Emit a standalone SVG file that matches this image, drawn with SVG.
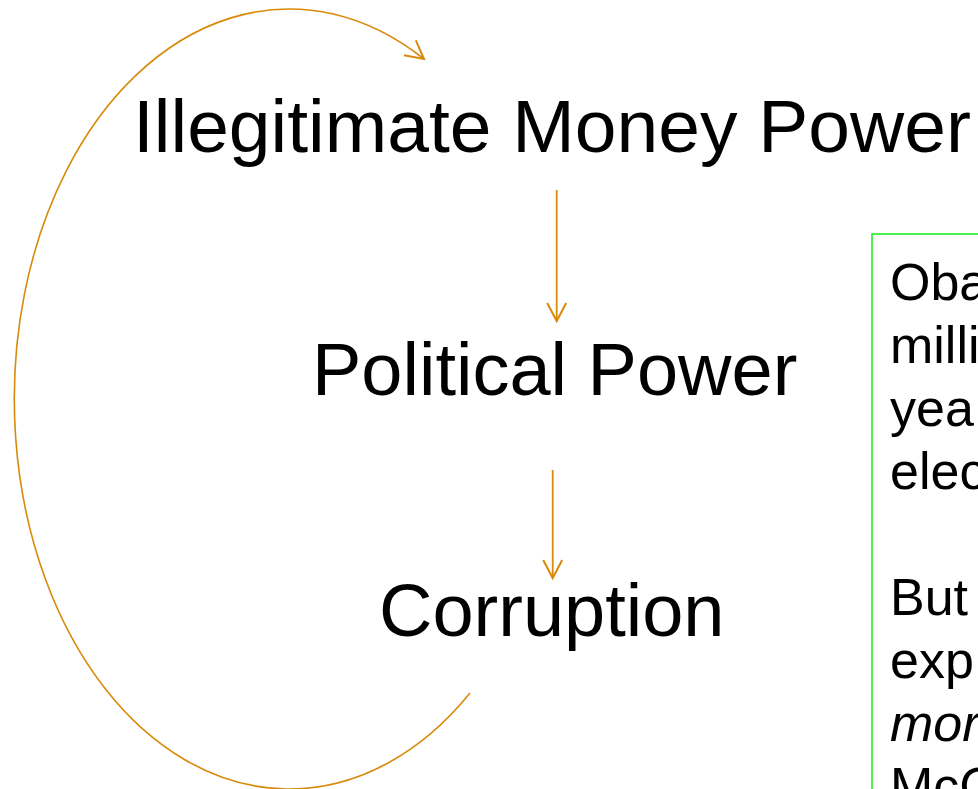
<svg xmlns="http://www.w3.org/2000/svg" width="978" height="789" viewBox="0 0 978 789">
<style>
.big{font-family:"Liberation Sans",Arial,sans-serif;font-size:74px;fill:#000}
.box{font-family:"Liberation Sans",Arial,sans-serif;font-size:52px;fill:#000}
.conn{fill:none;stroke:#D98A0B;stroke-width:1.8}
</style>
<defs>
<marker id="vee" markerUnits="userSpaceOnUse" markerWidth="30" markerHeight="30" viewBox="-25 -15 30 30" refX="0" refY="0" orient="auto">
<path d="M -18 -9.5 L 0 0 L -18 9.5" fill="none" stroke="#D98A0B" stroke-width="2" stroke-linejoin="miter"/>
</marker>
</defs>
<rect width="978" height="789" fill="#fff"/>
<g id="connectors">
<path class="conn" d="M 556.7 190 L 556.7 321" marker-end="url(#vee)"/>
<path class="conn" d="M 552.7 470 L 552.7 578" marker-end="url(#vee)"/>
<path class="conn" style="stroke-width:1.6" d="M 470 693 A 275 390 0 1 1 424 59" marker-end="url(#vee)"/>
</g>
<g id="node-money">
<text class="big" x="133" y="152" style="font-size:75px">Illegitimate Money Power</text>
</g>
<g id="node-political">
<text class="big" x="312" y="395">Political Power</text>
</g>
<g id="node-corruption">
<text class="big" x="379" y="636">Corruption</text>
</g>
<g id="note">
<rect x="872" y="234" width="120" height="570" fill="none" stroke="#11EE11" stroke-width="1.5"/>
<text class="box" x="890" y="300">Oba</text>
<text class="box" x="890" y="363">milli</text>
<text class="box" x="890" y="426">yea</text>
<text class="box" x="890" y="489">elec</text>
<text class="box" x="890" y="615">But</text>
<text class="box" x="890" y="678">exp</text>
<text class="box" x="890" y="741" font-style="italic">mor</text>
<text class="box" x="890" y="804">McC</text>
</g>
</svg>
